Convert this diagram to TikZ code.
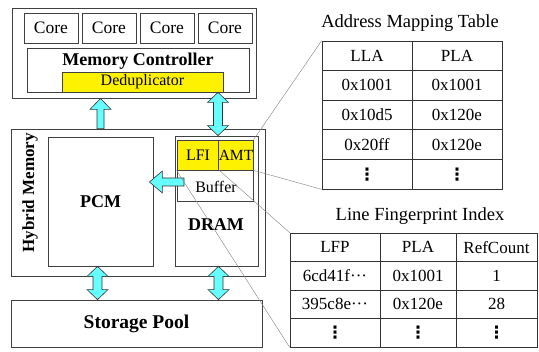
\documentclass[tikz,border=0pt]{standalone}
\usepackage{fontspec}
\setmainfont{Liberation Serif}
\newfontfamily\symfont{DejaVu Sans}
\usepackage{amsmath}
\usepackage{xcolor}
\usepackage{tikz}
\usetikzlibrary{calc,positioning}

\definecolor{arrowcyan}{RGB}{102,255,255}
\definecolor{boxgray}{RGB}{64,64,64}

\newcommand{\fsz}[1]{\fontsize{#1}{#1}\selectfont}
\newcommand{\vdotsym}{{\symfont\bfseries ⋮}}

% fat double arrow, #1 = upper end, #2 = lower end
\newcommand{\fatvarrow}[2]{%
    \filldraw[fatarrow] let \p1=(#1), \p2=(#2) in
        (\x1,\y1) -- ++(10.5pt,-10pt) -- ++(-6pt,0pt) -- (\x2+4.5pt,\y2+10pt) -- ++(6pt,0pt)
        -- (\x2,\y2) -- ++(-10.5pt,10pt) -- ++(6pt,0pt) -- (\x1-4.5pt,\y1-10pt) -- ++(-6pt,0pt) -- cycle;}
% fat single arrow pointing up, #1 = tail, #2 = tip
\newcommand{\fatuparrow}[2]{%
    \filldraw[fatarrow] let \p1=(#1), \p2=(#2) in
        (\x2,\y2) -- ++(10.5pt,-11pt) -- ++(-7pt,0pt) -- (\x1+3.5pt,\y1) -- (\x1-3.5pt,\y1)
        -- (\x2-3.5pt,\y2-11pt) -- ++(-7pt,0pt) -- cycle;}
% fat single arrow pointing left, #1 = tail, #2 = tip
\newcommand{\fatleftarrow}[2]{%
    \filldraw[fatarrow] let \p1=(#1), \p2=(#2) in
        (\x2,\y2) -- ++(13pt,11pt) -- ++(0pt,-7pt) -- (\x1,\y1+4pt) -- (\x1,\y1-4pt)
        -- (\x2+13pt,\y2-4pt) -- ++(0pt,-7pt) -- cycle;}

\begin{document}
\begin{tikzpicture}[
    x=1pt, y=-1pt,
    box/.style={draw=boxgray, line width=0.8pt, inner sep=0pt},
    core/.style={box, minimum width=54pt, minimum height=30pt, font=\fsz{17.5}},
    cell/.style={draw=black!80, line width=0.7pt, inner sep=0pt, font=\fsz{17}},
    fatarrow/.style={fill=arrowcyan, draw=black!80, line width=0.6pt},
    zoomline/.style={draw=gray, line width=0.4pt}
]

\useasboundingbox (0,0) rectangle (539,352);

% Processor side
\node[box, minimum width=244pt, minimum height=90pt] (cpu) at (134,53) {};
\foreach \i/\x in {1/51, 2/109, 3/167, 4/225} {
    \node[core] (core\i) at (\x,28) {Core};
}
\node[box, minimum width=222pt, minimum height=44pt] (mc) at (138,70) {};
\node[font=\bfseries\fsz{18}] (mctext) at (138,61) {Memory Controller};
\node[box, fill=yellow, minimum width=161pt, minimum height=20pt, font=\fsz{16}] (dedup) at (142.5,82) {Deduplicator};

% Hybrid memory
\node[box, minimum width=254pt, minimum height=147pt] (hybrid) at (138,202.5) {};
\node[rotate=90, font=\bfseries\fsz{17}] (hmtext) at (30,193) {Hybrid Memory};
\node[box, minimum width=105pt, minimum height=129pt, font=\bfseries\fsz{18}] (pcm) at (100.5,201.5) {PCM};
\node[box, minimum width=83pt, minimum height=130pt] (dram) at (216.5,201) {};
\node[font=\bfseries\fsz{18}] (dramtext) at (216,225) {DRAM};
\node[box, minimum width=76pt, minimum height=61pt] (buffer) at (215,170.5) {};
\node[font=\fsz{16}] (buftext) at (216,187) {Buffer};
\node[box, fill=yellow, minimum width=42pt, minimum height=30pt, font=\fsz{16}] (lfi) at (198,155) {LFI};
\node[box, fill=yellow, minimum width=34pt, minimum height=30pt, font=\fsz{15.5}] (amt) at (236,155) {AMT};

% Storage
\node[box, minimum width=251pt, minimum height=47pt, font=\bfseries\fsz{19.5}] (storage) at (136.5,323.5) {Storage Pool};

% Fat arrows
\coordinate (pcmup) at (pcm.north |- hybrid.north);
\coordinate (cpulo) at (pcm.north |- cpu.south);
\fatuparrow{pcmup}{cpulo}
\coordinate (dramtop) at ([xshift=1.5pt]dram.north);
\coordinate (dedupbot) at (dramtop |- dedup.south);
\fatvarrow{dedupbot}{dramtop}
\coordinate (buftail) at (184,182);
\coordinate (pcmedge) at (pcm.east |- buftail);
\coordinate (pcmtip) at ([xshift=-4pt]pcmedge);
\fatleftarrow{buftail}{pcmtip}
\coordinate (pcmlo) at ([xshift=-3pt]pcm.south);
\coordinate (storeleft) at (pcmlo |- storage.north);
\fatvarrow{pcmlo}{storeleft}
\coordinate (dramlo) at ([xshift=2pt]dram.south);
\coordinate (storeright) at (dramlo |- storage.north);
\fatvarrow{dramlo}{storeright}

% Address Mapping Table
\node[font=\fsz{18.5}] (amttitle) at (410,23) {Address Mapping Table};
\foreach \r/\a/\b in {1/LLA/PLA, 2/0x1001/0x1001, 3/0x10d5/0x120e, 4/0x20ff/0x120e, 5/\vdotsym/\vdotsym} {
    \node[cell, minimum width=90pt, minimum height=29.6pt] (amtab-\r-1) at (367,{41+29.6*(\r-0.5)}) {\a};
    \node[cell, minimum width=90pt, minimum height=29.6pt] (amtab-\r-2) at (457,{41+29.6*(\r-0.5)}) {\b};
}

% Line Fingerprint Index
\node[font=\fsz{18.5}] (lfititle) at (420,216) {Line Fingerprint Index};
\foreach \r/\a/\b/\c in {1/LFP/PLA/RefCount, 2/6cd41f···/0x1001/1, 3/395c8e···/0x120e/28, 4/\vdotsym/\vdotsym/\vdotsym} {
    \node[cell, minimum width=90pt, minimum height=28.5pt] (lfitab-\r-1) at (335,{233+28.5*(\r-0.5)}) {\a};
    \node[cell, minimum width=76pt, minimum height=28.5pt] (lfitab-\r-2) at (418,{233+28.5*(\r-0.5)}) {\b};
    \node[cell, minimum width=81pt, minimum height=28.5pt] (lfitab-\r-3) at (496.5,{233+28.5*(\r-0.5)}) {\c};
}

% Zoom lines
\draw[zoomline] (amt.north east) -- (amtab-1-1.north west);
\draw[zoomline] (amt.south east) -- (amtab-5-1.south west);
\draw[zoomline] (lfi.south east) -- (lfitab-1-1.north west);
\draw[zoomline] (lfi.south west) -- (lfitab-4-1.south west);

\end{tikzpicture}
\end{document}
